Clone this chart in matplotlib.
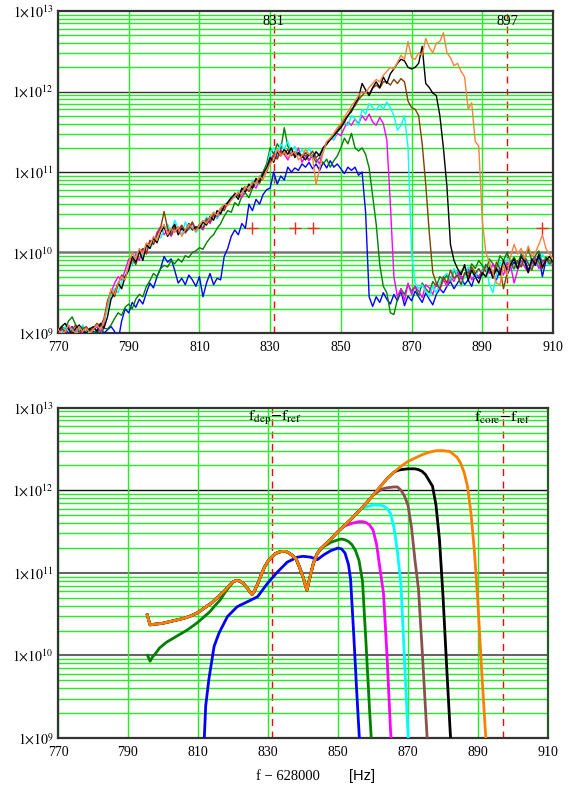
import numpy as np
import matplotlib.pyplot as plt
from matplotlib.ticker import FixedLocator, NullFormatter, LogLocator

plt.rcParams['font.family'] = ['Liberation Serif', 'DejaVu Serif']
plt.rcParams['mathtext.fontset'] = 'stix'

# ---------------- top panel: measured spectra (log10 of amplitude), 1 Hz steps ----------------
freq = np.arange(770, 911)

top_blue = [
    9.00, 9.06, 8.95, 9.04, 9.08, 9.00, 9.05, 8.97, 9.02, 9.04,
    9.02, 8.98, 9.06, 9.00, 9.04, 9.08, 9.02, 8.90, 9.15, 9.30,
    9.25, 9.38, 9.32, 9.42, 9.36, 9.50, 9.62, 9.56, 9.70, 9.80,
    9.95, 9.88, 9.92, 9.78, 9.62, 9.68, 9.60, 9.72, 9.66, 9.58,
    9.70, 9.45, 9.62, 9.74, 9.60, 9.68, 9.66, 9.95, 10.05, 10.20,
    10.28, 10.22, 10.36, 10.30, 10.60, 10.52, 10.66, 10.60, 10.72, 10.78,
    10.80, 11.00, 10.85, 10.95, 10.90, 11.06, 11.00, 11.05, 11.02, 11.10,
    11.06, 11.12, 11.04, 11.10, 11.02, 11.12, 11.05, 11.14, 11.06, 11.10,
    11.04, 10.98, 11.06, 11.02, 11.06, 10.96, 11.00, 10.50, 9.45, 9.33,
    9.45, 9.38, 9.50, 9.42, 9.36, 9.48, 9.40, 9.52, 9.34, 9.46,
    9.40, 9.52, 9.45, 9.38, 9.50, 9.42, 9.35, 9.48, 9.55, 9.50,
    9.58, 9.64, 9.55, 9.62, 9.70, 9.60, 9.66, 9.58, 9.72, 9.68,
    9.75, 9.70, 9.80, 9.74, 9.66, 9.78, 9.85, 9.72, 9.82, 9.88,
    9.80, 9.86, 9.92, 9.78, 9.88, 9.84, 9.95, 9.70, 9.90, 9.85,
    9.88]

top_green = [
    9.02, 9.08, 9.05, 9.15, 9.20, 9.10, 9.04, 9.08, 9.02, 9.06,
    9.00, 9.04, 8.98, 9.06, 9.05, 9.10, 9.18, 9.25, 9.22, 9.32,
    9.36, 9.30, 9.42, 9.48, 9.45, 9.58, 9.65, 9.74, 9.70, 9.80,
    9.84, 9.82, 9.90, 9.86, 9.92, 9.88, 9.96, 9.94, 10.00, 10.02,
    10.06, 10.04, 10.12, 10.18, 10.22, 10.30, 10.36, 10.45, 10.52, 10.50,
    10.62, 10.58, 10.70, 10.74, 10.68, 10.80, 10.86, 10.92, 11.00, 11.10,
    11.30, 11.22, 11.35, 11.28, 11.55, 11.32, 11.26, 11.20, 11.24, 11.18,
    11.22, 11.15, 11.20, 11.12, 11.18, 11.10, 11.16, 11.06, 11.14, 11.20,
    11.30, 11.42, 11.35, 11.48, 11.30, 11.26, 11.30, 11.22, 11.05, 10.70,
    10.35, 9.85, 9.58, 9.50, 9.25, 9.23, 9.42, 9.55, 9.48, 9.60,
    9.52, 9.58, 9.46, 9.62, 9.55, 9.50, 9.64, 9.58, 9.70, 9.66,
    9.72, 9.64, 9.78, 9.70, 9.76, 9.82, 9.74, 9.86, 9.80, 9.90,
    9.84, 9.76, 9.92, 9.86, 9.80, 9.96, 9.90, 10.00, 9.88, 9.94,
    9.86, 9.98, 9.92, 10.05, 9.90, 9.96, 10.02, 9.88, 9.94, 9.90,
    9.86]

top_magenta = [
    8.98, 9.04, 9.00, 9.08, 9.02, 9.05, 8.96, 9.02, 9.06, 9.00,
    9.04, 9.08, 9.02, 9.10, 9.38, 9.50, 9.62, 9.70, 9.66, 9.78,
    9.92, 9.85, 9.98, 9.90, 10.05, 10.00, 10.15, 10.10, 10.25, 10.32,
    10.22, 10.28, 10.20, 10.30, 10.26, 10.32, 10.24, 10.30, 10.36, 10.28,
    10.32, 10.28, 10.40, 10.36, 10.46, 10.42, 10.50, 10.56, 10.60, 10.66,
    10.70, 10.74, 10.68, 10.80, 10.76, 10.84, 10.80, 10.90, 10.94, 11.02,
    11.15, 11.22, 11.18, 11.28, 11.22, 11.15, 11.25, 11.20, 11.30, 11.12,
    11.20, 11.14, 11.22, 11.16, 11.10, 11.30, 11.36, 11.42, 11.40, 11.48,
    11.45, 11.55, 11.62, 11.58, 11.66, 11.60, 11.70, 11.64, 11.72, 11.62,
    11.58, 11.68, 11.60, 11.40, 10.60, 9.70, 9.45, 9.55, 9.40, 9.62,
    9.48, 9.58, 9.52, 9.44, 9.60, 9.56, 9.48, 9.62, 9.54, 9.66,
    9.58, 9.70, 9.64, 9.76, 9.68, 9.72, 9.80, 9.66, 9.74, 9.70,
    9.78, 9.82, 9.74, 9.86, 9.76, 9.80, 9.72, 9.88, 9.84, 9.62,
    9.78, 9.90, 9.82, 9.75, 9.86, 9.94, 9.80, 9.88, 9.92, 9.85,
    9.88]

top_cyan = [
    9.04, 9.00, 9.08, 9.02, 9.06, 8.98, 9.04, 9.10, 9.02, 9.00,
    9.05, 9.10, 9.06, 9.14, 9.30, 9.48, 9.55, 9.50, 9.64, 9.72,
    9.78, 9.86, 9.95, 10.02, 9.95, 10.08, 10.05, 10.12, 10.22, 10.18,
    10.28, 10.35, 10.25, 10.40, 10.30, 10.22, 10.38, 10.28, 10.32, 10.25,
    10.30, 10.36, 10.44, 10.40, 10.50, 10.42, 10.55, 10.58, 10.62, 10.70,
    10.68, 10.76, 10.72, 10.82, 10.78, 10.90, 10.84, 10.95, 10.92, 11.05,
    11.25, 11.30, 11.22, 11.35, 11.28, 11.38, 11.25, 11.32, 11.20, 11.28,
    11.22, 11.30, 11.18, 11.26, 11.20, 11.24, 11.36, 11.42, 11.40, 11.50,
    11.55, 11.62, 11.58, 11.70, 11.66, 11.58, 11.78, 11.72, 11.85, 11.80,
    11.77, 11.84, 11.78, 11.87, 11.80, 11.70, 11.52, 11.58, 11.70, 11.30,
    10.00, 9.62, 9.55, 9.60, 9.52, 9.45, 9.58, 9.50, 9.62, 9.70,
    9.74, 9.66, 9.80, 9.72, 9.58, 9.70, 9.82, 9.76, 9.68, 9.80,
    9.74, 9.86, 9.60, 9.50, 9.72, 9.88, 9.82, 9.92, 9.85, 9.78,
    9.90, 9.84, 9.95, 9.88, 9.80, 9.92, 9.86, 9.98, 9.90, 9.84,
    9.92]

top_brown = [
    9.00, 9.06, 9.02, 8.96, 9.04, 9.10, 9.00, 9.05, 9.08, 9.02,
    9.06, 9.12, 9.08, 9.18, 9.40, 9.52, 9.45, 9.60, 9.72, 9.68,
    9.80, 9.92, 9.85, 10.00, 10.05, 9.98, 10.15, 10.10, 10.22, 10.30,
    10.51, 10.30, 10.22, 10.32, 10.28, 10.34, 10.25, 10.30, 10.38, 10.28,
    10.35, 10.30, 10.42, 10.38, 10.48, 10.45, 10.55, 10.52, 10.62, 10.66,
    10.74, 10.70, 10.78, 10.82, 10.76, 10.86, 10.90, 10.86, 10.96, 11.00,
    11.12, 11.20, 11.16, 11.26, 11.22, 11.28, 11.20, 11.25, 11.22, 11.18,
    11.24, 11.20, 11.26, 11.18, 11.22, 11.30, 11.34, 11.42, 11.46, 11.52,
    11.58, 11.65, 11.70, 11.78, 11.82, 11.90, 11.95, 12.00, 11.96, 12.04,
    12.08, 12.04, 12.12, 12.12, 12.08, 12.15, 12.10, 12.16, 12.12, 11.88,
    11.80, 11.78, 11.70, 11.35, 10.85, 10.25, 9.75, 9.62, 9.55, 9.70,
    9.62, 9.78, 9.68, 9.72, 9.60, 9.75, 9.70, 9.82, 9.74, 9.80,
    9.72, 9.85, 9.78, 9.70, 9.88, 9.80, 9.55, 9.74, 9.86, 9.80,
    9.90, 9.82, 9.95, 9.86, 9.78, 9.92, 9.88, 9.80, 9.94, 9.86,
    9.90]

top_black = [
    9.02, 9.08, 9.12, 9.05, 8.98, 9.06, 9.10, 9.03, 9.00, 9.05,
    9.08, 9.02, 9.12, 9.06, 9.20, 9.42, 9.50, 9.62, 9.55, 9.70,
    9.78, 9.95, 9.88, 10.02, 9.90, 10.10, 10.05, 10.18, 10.12, 10.25,
    10.32, 10.20, 10.28, 10.35, 10.22, 10.30, 10.26, 10.36, 10.28, 10.32,
    10.30, 10.38, 10.34, 10.45, 10.40, 10.52, 10.48, 10.58, 10.62, 10.68,
    10.72, 10.66, 10.80, 10.75, 10.85, 10.80, 10.92, 10.88, 10.98, 11.05,
    11.18, 11.12, 11.25, 11.20, 11.28, 11.22, 11.30, 11.18, 11.24, 11.20,
    11.15, 11.22, 11.18, 11.25, 11.20, 11.30, 11.35, 11.40, 11.45, 11.50,
    11.55, 11.62, 11.70, 11.75, 11.85, 11.92, 12.10, 12.02, 11.95, 12.05,
    12.12, 12.05, 12.18, 12.10, 12.22, 12.28, 12.35, 12.40, 12.38, 12.30,
    12.28, 12.30, 12.35, 12.56, 12.10, 12.05, 11.98, 11.95, 11.70, 11.30,
    10.82, 10.10, 9.90, 9.80, 9.72, 9.85, 9.65, 9.78, 9.70, 9.62,
    9.75, 9.70, 9.82, 9.68, 9.80, 9.72, 9.90, 9.78, 9.85, 9.92,
    9.80, 9.95, 9.88, 9.75, 9.92, 9.85, 9.98, 9.82, 9.90, 9.95,
    9.88]

top_orange = [
    9.05, 8.98, 9.02, 9.10, 9.04, 9.00, 9.08, 9.02, 9.06, 9.00,
    9.05, 9.10, 9.04, 9.15, 9.35, 9.55, 9.48, 9.62, 9.70, 9.66,
    9.85, 10.00, 9.92, 10.05, 9.98, 10.12, 10.08, 10.20, 10.15, 10.28,
    10.35, 10.22, 10.30, 10.25, 10.32, 10.20, 10.28, 10.35, 10.30, 10.26,
    10.34, 10.40, 10.36, 10.44, 10.50, 10.46, 10.55, 10.60, 10.58, 10.65,
    10.70, 10.75, 10.72, 10.82, 10.78, 10.88, 10.85, 10.95, 10.90, 11.02,
    11.10, 11.15, 11.28, 11.20, 11.25, 11.18, 11.22, 11.26, 11.15, 11.20,
    11.28, 11.22, 11.18, 10.84, 11.05, 11.25, 11.38, 11.42, 11.48, 11.55,
    11.60, 11.68, 11.75, 11.82, 11.88, 11.95, 12.00, 11.98, 12.05, 12.10,
    12.15, 12.12, 12.20, 12.25, 12.30, 12.28, 12.36, 12.45, 12.40, 12.62,
    12.42, 12.40, 12.48, 12.45, 12.66, 12.55, 12.48, 12.60, 12.62, 12.73,
    12.48, 12.42, 12.32, 12.35, 12.25, 12.18, 11.78, 11.86, 11.38, 11.32,
    10.40, 10.00, 9.88, 9.75, 9.62, 9.60, 9.85, 9.72, 9.95, 10.10,
    9.98, 10.05, 9.92, 10.08, 9.95, 10.00, 10.10, 10.22, 10.05, 9.98,
    9.92]

plus_f = [825, 837, 842, 907]
plus_v = [2e10, 2e10, 2e10, 2e10]
marks = [831, 897]

# ---------------- bottom panel: model curves (log10) ----------------
bundle_f = [795.5, 796.3, 798, 800, 802, 804, 806, 808, 810, 812, 814, 816, 818, 819,
            820, 821, 822, 823, 824, 825, 825.5, 826, 827, 828, 829, 830, 831, 832,
            833, 834, 835, 836, 837, 838, 839, 840, 841.1, 842, 843, 844, 845, 846,
            848, 850, 852, 854, 856, 858, 860, 862, 864, 866]
bundle_v = [10.49, 10.37, 10.38, 10.39, 10.41, 10.43, 10.45, 10.48, 10.52, 10.58, 10.64,
            10.72, 10.80, 10.85, 10.89, 10.91, 10.90, 10.87, 10.82, 10.76, 10.74, 10.77,
            10.86, 10.97, 11.07, 11.14, 11.19, 11.23, 11.25, 11.26, 11.26, 11.24, 11.21,
            11.17, 11.07, 10.95, 10.79, 10.95, 11.12, 11.23, 11.29, 11.33, 11.41, 11.50,
            11.58, 11.66, 11.75, 11.84, 11.94, 12.04, 12.14, 12.22]

orange_tail_f = [868, 870, 872, 874, 876, 878, 880, 882, 884, 885, 886, 887, 888, 889, 890, 891, 892, 893]
orange_tail_v = [12.29, 12.35, 12.39, 12.43, 12.46, 12.48, 12.48, 12.47, 12.40, 12.33, 12.22,
                 12.05, 11.72, 11.25, 10.62, 9.85, 9.15, 8.5]

black_tail_f = [867, 868, 870, 872, 873, 874, 875, 876, 877, 878, 879, 880, 881, 882, 883]
black_tail_v = [12.24, 12.25, 12.26, 12.26, 12.25, 12.23, 12.19, 12.12, 12.05, 11.82, 11.40,
                10.72, 9.90, 9.12, 8.4]

brown_tail_f = [861, 862, 863, 864, 866, 867, 868, 869, 870, 871, 872, 873, 874, 875, 876]
brown_tail_v = [11.97, 12.00, 12.02, 12.03, 12.04, 12.04, 12.00, 11.93, 11.82, 11.55, 11.15,
                10.80, 10.10, 9.35, 8.6]

cyan_tail_f = [855, 856, 857, 858, 860, 862, 863, 864, 865, 866, 867, 868, 869, 870, 871]
cyan_tail_v = [11.71, 11.75, 11.78, 11.80, 11.82, 11.82, 11.81, 11.78, 11.72, 11.55, 11.25,
               10.85, 9.95, 9.05, 8.4]

magenta_tail_f = [851, 852, 854, 856, 857, 858, 859, 860, 861, 862, 863, 864, 865, 866]
magenta_tail_v = [11.54, 11.57, 11.60, 11.62, 11.62, 11.61, 11.58, 11.52, 11.35, 11.05,
                  10.75, 10.00, 9.10, 8.5]

green_head_f = [795.6, 796.3, 797, 798, 799, 801, 803, 805, 807, 809.6, 811, 813.4, 815,
                816.3, 818, 819.5]
green_head_v = [10.00, 9.93, 9.98, 10.03, 10.09, 10.16, 10.21, 10.26, 10.31, 10.39, 10.44,
                10.53, 10.61, 10.67, 10.78, 10.86]
green_tail_f = [845, 846, 848, 850, 851, 852, 853, 854, 855, 856, 857, 858, 859, 859.5, 860]
green_tail_v = [11.28, 11.32, 11.37, 11.40, 11.41, 11.40, 11.38, 11.34, 11.27, 11.15, 10.90,
                10.15, 9.35, 9.0, 8.5]

blue_f = [811.2, 811.8, 812.2, 813.1, 814.6, 816, 818.4, 821.2, 824.1, 827, 829.8, 832.7,
          835.5, 838.4, 840, 842.2, 844.1, 846, 848, 850, 851, 852, 853, 853.6, 854.5,
          855.3, 856.1, 856.8]
blue_v = [8.5, 9.0, 9.39, 9.71, 10.11, 10.27, 10.47, 10.59, 10.65, 10.71, 10.87, 11.01,
          11.13, 11.19, 11.20, 11.19, 11.16, 11.22, 11.27, 11.30, 11.29, 11.24, 11.10, 10.92,
          10.25, 9.60, 9.0, 8.5]

decade_ticks = [1e9, 1e10, 1e11, 1e12, 1e13]
decade_labels = [r'$1{\times}10^{9}$', r'$1{\times}10^{10}$', r'$1{\times}10^{11}$',
                 r'$1{\times}10^{12}$', r'$1{\times}10^{13}$']
x_ticks = [770, 790, 810, 830, 850, 870, 890, 910]


def bundle_until(fmax):
    f = [x for x in bundle_f if x <= fmax]
    return f, bundle_v[:len(f)]


def style(ax, major_cols):
    ax.set_yscale('log')
    ax.set_xlim(770, 910)
    ax.set_ylim(1e9, 1e13)
    ax.set_xticks(x_ticks)
    ax.set_xticklabels([str(t) for t in x_ticks])
    ax.yaxis.set_major_locator(FixedLocator(decade_ticks))
    ax.set_yticklabels(decade_labels)
    ax.yaxis.set_minor_locator(LogLocator(base=10, subs=range(2, 10)))
    ax.yaxis.set_minor_formatter(NullFormatter())
    ax.tick_params(which='both', length=0, labelsize=10)
    ax.tick_params(axis='x', pad=6)
    ax.tick_params(axis='y', pad=3)
    ax.grid(axis='x', which='major', color='#22ee22', lw=1.0, zorder=0)
    ax.grid(axis='y', which='minor', color='#22ee22', lw=1.0, zorder=0)
    ax.grid(axis='y', which='major', visible=False)
    for d, (c, w) in zip([1e10, 1e11, 1e12], major_cols):
        ax.axhline(d, color=c, lw=w, zorder=1)
    for m in marks:
        ax.axvline(m, color='#ff0000', lw=1.0, ls=(0, (5, 4)), zorder=1.5)
    for s in ax.spines.values():
        s.set_linewidth(1.6)
        s.set_color('#333333')


fig = plt.figure(figsize=(5.68, 7.91), dpi=100)
W, H = 568.0, 791.0
ax1 = fig.add_axes([58 / W, 1 - 333 / H, (553 - 58) / W, (333 - 11) / H])
ax2 = fig.add_axes([58 / W, 1 - 738 / H, (548 - 58) / W, (738 - 407.7) / H])

style(ax1, [('#777777', 1.8), ('#222222', 1.0), ('#333333', 1.0)])
style(ax2, [('#666666', 1.5), ('#666666', 1.5), ('#111111', 1.0)])
ax2.spines['right'].set_color('#2a5a2a')

top_series = [(top_blue, '#0000ff'), (top_green, '#008000'), (top_magenta, '#ff00ff'),
              (top_cyan, '#00ffff'), (top_brown, '#804000'), (top_black, '#000000'),
              (top_orange, '#ff8040')]
for vals, col in top_series:
    ax1.plot(freq, 10 ** np.array(vals), color=col, lw=1.0, zorder=3)
ax1.plot(plus_f, plus_v, ls='none', marker='+', ms=8, mew=1.0, color='#ee2a1a', zorder=4)
for m in marks:
    ax1.text(m, 0.967, str(m), transform=ax1.get_xaxis_transform(), ha='center',
             va='center', fontsize=10.5, zorder=5)

lw2 = 2.0
ax2.plot(blue_f, 10 ** np.array(blue_v), color='#0000ff', lw=lw2, zorder=3)
gf = green_head_f + [x for x in bundle_f if 820 <= x <= 844] + green_tail_f
gv = green_head_v + [v for x, v in zip(bundle_f, bundle_v) if 820 <= x <= 844] + green_tail_v
ax2.plot(gf, 10 ** np.array(gv), color='#008000', lw=lw2, zorder=3)
for fmax, tf, tv, col in [(850, magenta_tail_f, magenta_tail_v, '#ff00ff'),
                          (854, cyan_tail_f, cyan_tail_v, '#00ffff'),
                          (860, brown_tail_f, brown_tail_v, '#8b5050'),
                          (866, black_tail_f, black_tail_v, '#000000'),
                          (866, orange_tail_f, orange_tail_v, '#ff8000')]:
    bf, bv = bundle_until(fmax)
    ax2.plot(bf + tf, 10 ** np.array(bv + tv), color=col, lw=lw2, zorder=3)

ax2.text(824.3, 0.968, r'$\mathrm{f_{dep}{-}f_{ref}}$', transform=ax2.get_xaxis_transform(),
         ha='left', va='center', fontsize=11.5, zorder=5)
ax2.text(889.0, 0.968, r'$\mathrm{f_{core}{-}f_{ref}}$', transform=ax2.get_xaxis_transform(),
         ha='left', va='center', fontsize=11.5, zorder=5)

fig.text(288 / W, 1 - 777 / H, 'f \u2212 628000', ha='center', va='center', fontsize=10.5)
fig.text(362 / W, 1 - 776 / H, '[Hz]', ha='center', va='center', fontsize=10.5,
         family=['Liberation Sans', 'DejaVu Sans'])

plt.savefig('out.png', dpi=100)
plt.close()
